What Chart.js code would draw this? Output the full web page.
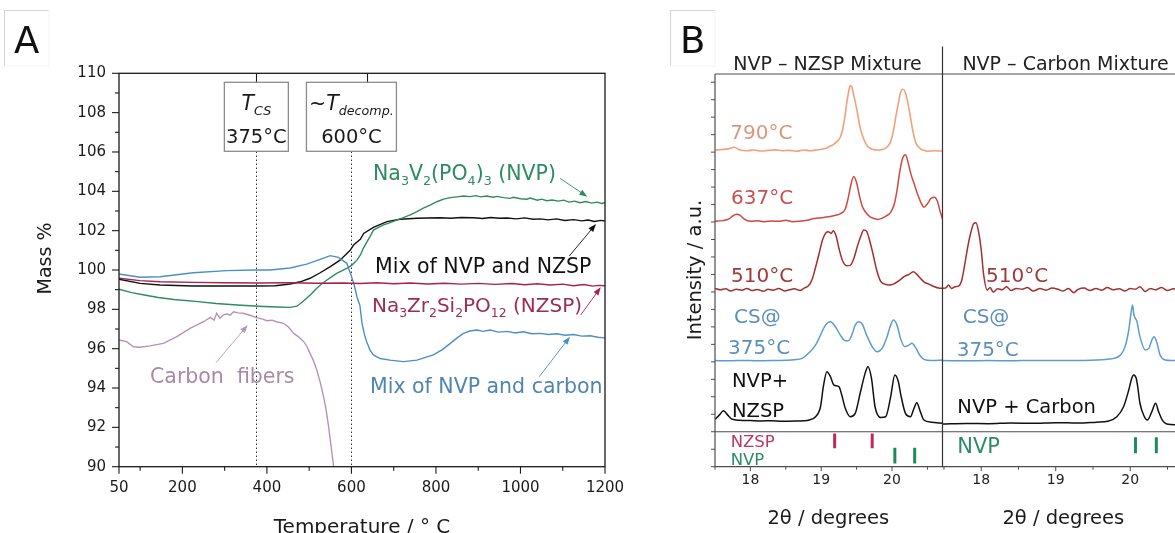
<!DOCTYPE html>
<html>
<head>
<meta charset="utf-8">
<title>TGA and XRD of NVP mixtures</title>
<script src="https://cdn.jsdelivr.net/npm/chart.js@4.4.1/dist/chart.umd.min.js"></script>
<style>
  html, body { margin: 0; padding: 0; background: #fff; overflow: hidden; }
  body { width: 1175px; height: 533px; position: relative; }
  canvas { position: absolute; top: 0; }
</style>
</head>
<body>
<canvas id="tga" width="650" height="533" style="left:0"></canvas>
<canvas id="xrdL" width="300" height="533" style="left:660px"></canvas>
<canvas id="xrdR" width="270" height="533" style="left:930px"></canvas>
<script>
const FONT = '"DejaVu Sans", sans-serif';

// ---------- Panel A: TGA (temperature in °C, mass in %) ----------
const tempNVP = [50, 80, 110, 143, 180, 237, 280, 330, 380, 424, 455, 471, 483, 494, 506, 518, 530, 542, 553, 565, 577, 589, 601, 613, 621, 628, 636, 644, 652, 664, 676, 690, 707, 723, 739, 755, 770, 786, 802, 818, 834, 850, 865, 880, 895, 905, 920, 935, 944, 960, 975, 983, 1000, 1015, 1023, 1040, 1050, 1062, 1075, 1090, 1102, 1115, 1128, 1141, 1155, 1168, 1181, 1192, 1200];
const massNVP = [99.02, 98.85, 98.73, 98.6, 98.5, 98.39, 98.3, 98.22, 98.16, 98.12, 98.1, 98.16, 98.36, 98.56, 98.8, 99.07, 99.3, 99.49, 99.65, 99.83, 99.95, 100.08, 100.25, 100.5, 100.75, 101.1, 101.4, 101.7, 102.03, 102.17, 102.29, 102.4, 102.54, 102.66, 102.8, 102.97, 103.14, 103.3, 103.47, 103.6, 103.68, 103.72, 103.76, 103.73, 103.78, 103.72, 103.76, 103.7, 103.74, 103.68, 103.64, 103.7, 103.62, 103.6, 103.66, 103.55, 103.6, 103.52, 103.56, 103.5, 103.55, 103.45, 103.5, 103.42, 103.48, 103.4, 103.45, 103.38, 103.42];

const tempMixNZSP = [50, 100, 147, 226, 305, 374, 420, 455, 479, 502, 526, 550, 573, 597, 605, 621, 629, 652, 684, 715, 755, 780, 810, 835, 860, 889, 910, 930, 950, 968, 990, 1010, 1030, 1047, 1065, 1085, 1105, 1126, 1145, 1160, 1175, 1190, 1200];
const massMixNZSP = [99.53, 99.32, 99.24, 99.19, 99.19, 99.19, 99.2, 99.29, 99.4, 99.58, 99.86, 100.17, 100.5, 101.0, 101.27, 101.56, 101.86, 102.17, 102.46, 102.58, 102.63, 102.64, 102.66, 102.63, 102.67, 102.66, 102.62, 102.67, 102.63, 102.64, 102.6, 102.65, 102.58, 102.6, 102.55, 102.6, 102.52, 102.56, 102.5, 102.54, 102.47, 102.52, 102.49];

const tempNZSP = [50, 100, 147, 226, 300, 380, 450, 520, 580, 620, 660, 700, 740, 780, 820, 860, 900, 940, 980, 1010, 1040, 1070, 1100, 1125, 1150, 1170, 1185, 1200];
const massNZSP = [99.58, 99.46, 99.4, 99.37, 99.35, 99.34, 99.35, 99.33, 99.34, 99.31, 99.35, 99.3, 99.34, 99.29, 99.33, 99.28, 99.32, 99.27, 99.31, 99.25, 99.3, 99.24, 99.28, 99.2, 99.26, 99.18, 99.22, 99.2];

const tempMixC = [50, 100, 147, 226, 305, 374, 407, 455, 494, 526, 550, 569, 589, 599, 607, 613, 620, 625, 631, 636, 644, 652, 668, 691, 723, 755, 794, 815, 834, 850, 865, 880, 897, 912, 928, 948, 968, 988, 1007, 1027, 1047, 1066, 1086, 1106, 1126, 1145, 1165, 1183, 1200];
const massMixC = [99.8, 99.63, 99.66, 99.86, 99.97, 100.0, 100.0, 100.1, 100.3, 100.54, 100.73, 100.64, 100.34, 99.75, 99.2, 98.64, 98.2, 97.3, 96.7, 96.35, 95.93, 95.68, 95.5, 95.42, 95.34, 95.42, 95.68, 95.95, 96.27, 96.55, 96.78, 96.9, 96.95, 96.88, 96.95, 96.84, 96.88, 96.8, 96.86, 96.76, 96.78, 96.72, 96.76, 96.68, 96.72, 96.64, 96.66, 96.58, 96.55];

const tempCF = [50, 68, 84, 100, 123, 155, 186, 218, 250, 266, 275, 281, 289, 297, 305, 313, 321, 332, 344, 360, 374, 390, 400, 412, 423, 439, 451, 463, 475, 487, 495, 502, 510, 518, 526, 534, 540, 546, 552, 556, 559];
const massCF = [96.44, 96.36, 96.1, 96.07, 96.14, 96.27, 96.6, 97.03, 97.37, 97.59, 97.45, 97.8, 97.55, 97.72, 97.76, 97.7, 97.88, 97.82, 97.8, 97.7, 97.59, 97.5, 97.42, 97.45, 97.37, 97.29, 97.1, 96.78, 96.6, 96.36, 96.1, 95.76, 95.4, 94.92, 94.3, 93.56, 92.9, 92.03, 91.0, 90.34, 89.8];

const tempLabels = [50, 200, 400, 600, 800, 1000, 1200];
const tempMinor = [100, 300, 500, 700, 900, 1100];
const massLabels = [90, 92, 94, 96, 98, 100, 102, 104, 106, 108, 110];
const massMinor = [91, 93, 95, 97, 99, 101, 103, 105, 107, 109];
const markerTemps = [375, 600];
const markerNames = ['375°C', '600°C'];

// ---------- Panel B: XRD (2θ in degrees, offset intensity) ----------
const thetaTicks = [18, 19, 20];
const thetaMinor = [17.5, 18.5, 19.5, 20.5];

const x790 = [17.5, 17.6, 17.7, 17.77, 17.85, 17.95, 18.05, 18.15, 18.25, 18.35, 18.45, 18.55, 18.65, 18.75, 18.85, 18.95, 19.03, 19.08, 19.13, 19.17, 19.22, 19.27, 19.3, 19.33, 19.36, 19.39, 19.41, 19.43, 19.46, 19.5, 19.55, 19.6, 19.65, 19.72, 19.8, 19.85, 19.9, 19.94, 19.98, 20.02, 20.05, 20.09, 20.12, 20.15, 20.18, 20.22, 20.26, 20.3, 20.34, 20.4, 20.45, 20.5, 20.6, 20.72];
const y790 = [18.12, 18.15, 18.2, 18.28, 18.12, 18.08, 18.12, 18.06, 18.1, 18.13, 18.08, 18.1, 18.05, 18.12, 18.08, 18.14, 18.18, 18.24, 18.35, 18.43, 18.6, 18.85, 19.25, 19.9, 20.8, 21.5, 21.8, 21.75, 21.25, 20.5, 19.4, 18.75, 18.35, 18.17, 18.12, 18.14, 18.2, 18.33, 18.6, 19.2, 19.95, 20.8, 21.4, 21.6, 21.5, 20.9, 20.0, 19.1, 18.5, 18.2, 18.1, 18.05, 18.08, 18.06];

const x637 = [17.5, 17.6, 17.7, 17.75, 17.8, 17.85, 17.92, 18.0, 18.1, 18.2, 18.3, 18.4, 18.5, 18.6, 18.7, 18.8, 18.9, 19.0, 19.1, 19.2, 19.28, 19.34, 19.38, 19.42, 19.46, 19.5, 19.54, 19.58, 19.62, 19.69, 19.75, 19.8, 19.86, 19.92, 19.98, 20.03, 20.07, 20.11, 20.15, 20.19, 20.23, 20.27, 20.32, 20.36, 20.41, 20.45, 20.5, 20.55, 20.6, 20.64, 20.68, 20.72];
const y637 = [14.05, 14.08, 14.18, 14.35, 14.45, 14.4, 14.15, 14.05, 14.08, 14.02, 14.06, 14.04, 14.1, 14.02, 14.05, 14.1, 14.2, 14.25, 14.3, 14.38, 14.5, 14.75, 15.35, 16.15, 16.6, 16.25, 15.5, 14.9, 14.6, 14.3, 14.2, 14.15, 14.22, 14.35, 14.55, 15.0, 15.8, 16.9, 17.65, 17.85, 17.35, 16.7, 16.1, 15.6, 15.1, 14.85, 15.05, 15.35, 15.42, 15.2, 14.6, 14.1];

const x510L = [17.5, 17.58, 17.65, 17.72, 17.8, 17.88, 17.95, 18.02, 18.1, 18.18, 18.25, 18.32, 18.4, 18.48, 18.55, 18.62, 18.7, 18.76, 18.82, 18.87, 18.92, 18.97, 19.02, 19.07, 19.1, 19.14, 19.17, 19.21, 19.25, 19.3, 19.36, 19.41, 19.46, 19.51, 19.56, 19.6, 19.64, 19.68, 19.73, 19.78, 19.84, 19.9, 19.96, 20.02, 20.1, 20.18, 20.24, 20.3, 20.34, 20.4, 20.46, 20.52, 20.6, 20.66, 20.72];
const y510L = [10.2, 10.12, 10.18, 10.05, 10.15, 10.1, 10.2, 10.08, 10.14, 10.04, 10.15, 10.1, 10.2, 10.06, 10.12, 10.18, 10.08, 10.22, 10.35, 10.7, 11.4, 12.2, 13.0, 13.4, 13.45, 13.35, 13.5, 13.2, 12.5, 11.8, 11.5, 11.52, 11.9, 12.6, 13.2, 13.55, 13.48, 13.0, 12.2, 11.3, 10.6, 10.45, 10.4, 10.45, 10.65, 10.9, 11.0, 11.15, 11.05, 10.78, 10.55, 10.45, 10.3, 10.22, 10.2];

const xCSL = [17.5, 17.7, 17.9, 18.1, 18.3, 18.5, 18.62, 18.73, 18.82, 18.92, 18.99, 19.06, 19.13, 19.2, 19.27, 19.34, 19.39, 19.44, 19.48, 19.53, 19.58, 19.65, 19.72, 19.79, 19.86, 19.93, 19.98, 20.02, 20.07, 20.12, 20.18, 20.24, 20.28, 20.34, 20.39, 20.45, 20.56, 20.72];
const yCSL = [6.07, 6.06, 6.08, 6.06, 6.07, 6.09, 6.12, 6.2, 6.49, 6.96, 7.53, 8.1, 8.3, 8.01, 7.53, 7.21, 7.22, 7.63, 8.1, 8.3, 8.15, 7.44, 6.87, 6.58, 6.77, 7.44, 8.1, 8.39, 8.1, 7.34, 6.87, 6.96, 7.06, 6.77, 6.39, 6.14, 6.07, 6.1];

const xMixL = [17.5, 17.56, 17.62, 17.68, 17.74, 17.85, 18.0, 18.16, 18.3, 18.45, 18.63, 18.75, 18.82, 18.92, 18.99, 19.03, 19.08, 19.13, 19.18, 19.25, 19.29, 19.34, 19.41, 19.48, 19.55, 19.62, 19.66, 19.71, 19.76, 19.84, 19.91, 19.98, 20.04, 20.09, 20.12, 20.19, 20.26, 20.31, 20.35, 20.4, 20.45, 20.56, 20.72];
const yMixL = [2.7, 2.95, 3.2, 2.95, 2.72, 2.66, 2.64, 2.62, 2.63, 2.6, 2.61, 2.63, 2.66, 2.86, 3.43, 4.58, 5.43, 5.15, 4.67, 4.58, 4.1, 3.34, 2.86, 3.05, 4.2, 5.34, 5.72, 5.05, 3.43, 2.82, 2.86, 3.98, 5.25, 4.86, 4.2, 3.05, 2.86, 3.34, 3.66, 3.15, 2.67, 2.55, 2.48];

const x510R = [17.48, 17.53, 17.56, 17.6, 17.65, 17.7, 17.74, 17.78, 17.82, 17.86, 17.9, 17.93, 17.96, 18.0, 18.03, 18.08, 18.12, 18.16, 18.22, 18.28, 18.34, 18.4, 18.47, 18.55, 18.62, 18.7, 18.79, 18.87, 18.95, 19.03, 19.1, 19.17, 19.24, 19.3, 19.38, 19.46, 19.54, 19.62, 19.69, 19.77, 19.85, 19.93, 20.0, 20.07, 20.13, 20.2, 20.27, 20.34, 20.42, 20.5, 20.58, 20.65, 20.72];
const y510R = [10.2, 10.25, 10.4, 10.2, 10.3, 10.35, 10.7, 11.6, 12.6, 13.4, 13.92, 13.96, 13.54, 12.4, 11.06, 10.11, 10.25, 9.99, 10.18, 10.12, 10.3, 10.08, 10.2, 10.15, 10.25, 10.05, 10.2, 10.1, 10.22, 10.15, 10.05, 10.2, 9.96, 10.15, 10.22, 10.08, 10.2, 10.1, 10.25, 10.12, 10.18, 10.05, 10.2, 10.15, 10.3, 10.02, 10.2, 10.12, 10.25, 10.08, 10.18, 10.1, 10.2];

const xCSR = [17.48, 17.8, 18.1, 18.4, 18.7, 19.0, 19.3, 19.55, 19.7, 19.78, 19.87, 19.93, 19.98, 20.01, 20.03, 20.05, 20.09, 20.13, 20.2, 20.25, 20.29, 20.32, 20.36, 20.4, 20.47, 20.55, 20.72];
const yCSR = [6.07, 6.06, 6.07, 6.06, 6.08, 6.07, 6.08, 6.1, 6.15, 6.2, 6.39, 6.87, 7.82, 8.77, 9.25, 8.68, 8.3, 7.44, 6.68, 6.77, 7.25, 7.44, 7.06, 6.39, 6.1, 6.07, 6.07];

const xMixR = [17.48, 17.8, 18.1, 18.4, 18.7, 19.0, 19.3, 19.55, 19.7, 19.82, 19.91, 19.98, 20.02, 20.045, 20.08, 20.1, 20.13, 20.19, 20.23, 20.29, 20.34, 20.38, 20.43, 20.49, 20.6, 20.72];
const yMixR = [2.44, 2.47, 2.46, 2.5, 2.48, 2.52, 2.5, 2.55, 2.6, 2.86, 3.43, 4.39, 5.06, 5.25, 5.06, 4.58, 3.63, 2.86, 2.67, 3.15, 3.63, 3.15, 2.67, 2.44, 2.4, 2.4];

// reference reflections
const nzspRefX = [19.19, 19.72];
const nvpRefXL = [20.04, 20.32];
const nvpRefXR = [20.07, 20.35];

// ---------- helpers ----------
function pts(xs, ys) { return xs.map((v, i) => ({ x: v, y: ys[i] })); }

function curve(xs, ys, color, width, smooth) {
  return {
    data: pts(xs, ys), borderColor: color, borderWidth: width, pointRadius: 0, fill: false,
    tension: 0, cubicInterpolationMode: smooth ? 'monotone' : 'default'
  };
}

// short vertical bars for reference peak positions (gaps split the bars)
function refBars(xs, lo, hi, color) {
  const data = [];
  xs.forEach((v, i) => {
    if (i) data.push({ x: v - 0.01, y: null });
    data.push({ x: v, y: lo }, { x: v, y: hi });
  });
  return { data, borderColor: color, borderWidth: 3, borderCapStyle: 'butt', pointRadius: 0, spanGaps: false, tension: 0 };
}

function seg(ctx, x1, y1, x2, y2) {
  ctx.beginPath(); ctx.moveTo(x1, y1); ctx.lineTo(x2, y2); ctx.stroke();
}

function text(ctx, s, x, y, size, color, align) {
  ctx.font = `${size}px ${FONT}`;
  ctx.fillStyle = color;
  ctx.textAlign = align || 'left';
  ctx.textBaseline = 'alphabetic';
  ctx.fillText(s, x, y);
}

// parts: [text, mode]  mode may contain 'it' (italic) and 'sub' (subscript)
function rich(ctx, parts, x, y, size, color, align) {
  const fontOf = m => `${m.includes('it') ? 'italic ' : ''}${m.includes('sub') ? size * 0.62 : size}px ${FONT}`;
  let w = 0;
  parts.forEach(([s, m]) => { ctx.font = fontOf(m); w += ctx.measureText(s).width; });
  let cx = align === 'center' ? x - w / 2 : x;
  ctx.fillStyle = color; ctx.textAlign = 'left'; ctx.textBaseline = 'alphabetic';
  parts.forEach(([s, m]) => {
    ctx.font = fontOf(m);
    ctx.fillText(s, cx, y + (m.includes('sub') ? size * 0.25 : 0));
    cx += ctx.measureText(s).width;
  });
}

function arrow(ctx, x1, y1, x2, y2, color) {
  const a = Math.atan2(y2 - y1, x2 - x1), L = 8, W = 3;
  ctx.strokeStyle = color; ctx.fillStyle = color; ctx.lineWidth = 0.9;
  seg(ctx, x1, y1, x2 - L * 0.7 * Math.cos(a), y2 - L * 0.7 * Math.sin(a));
  ctx.beginPath();
  ctx.moveTo(x2, y2);
  ctx.lineTo(x2 - L * Math.cos(a) + W * Math.sin(a), y2 - L * Math.sin(a) - W * Math.cos(a));
  ctx.lineTo(x2 - L * Math.cos(a) - W * Math.sin(a), y2 - L * Math.sin(a) + W * Math.cos(a));
  ctx.closePath(); ctx.fill();
}

function panelTag(ctx, letter, bx, by) {
  ctx.strokeStyle = '#d6d6d6'; ctx.lineWidth = 1;
  seg(ctx, bx, by + 0.5, bx + 45, by + 0.5);
  seg(ctx, bx + 0.5, by, bx + 0.5, by + 56);
  ctx.strokeStyle = '#f2f2f2';
  seg(ctx, bx + 45, by, bx + 45, by + 56);
  seg(ctx, bx, by + 56, bx + 45, by + 56);
  text(ctx, letter, bx + 10, by + 42.5, 37, '#111');
}

const noPad = s => { s.paddingLeft = 0; s.paddingRight = 0; s.paddingTop = 0; s.paddingBottom = 0; };

// ---------- Panel A chart ----------
const colNVP = '#2e8b62', colMixC = '#4d8fc2', colNZSP = '#a8224c', colCF = '#b892b4';

const tgaDecor = {
  id: 'tgaDecor',
  beforeDatasetsDraw(chart) {
    const { ctx, chartArea: a, scales: { x } } = chart;
    ctx.save();
    ctx.strokeStyle = '#333'; ctx.lineWidth = 1; ctx.setLineDash([1.5, 2.5]);
    markerTemps.forEach(t => {
      const px = Math.round(x.getPixelForValue(t)) + 0.5;
      seg(ctx, px, 151.5, px, a.bottom);
    });
    ctx.restore();
  },
  afterDraw(chart) {
    const { ctx, chartArea: a, scales: { x, y } } = chart;
    ctx.save();
    ctx.strokeStyle = '#1a1a1a'; ctx.lineWidth = 1.3;
    ctx.strokeRect(a.left, a.top, a.right - a.left, a.bottom - a.top);
    ctx.lineWidth = 1.1;
    tempLabels.forEach(t => seg(ctx, x.getPixelForValue(t), a.bottom, x.getPixelForValue(t), a.bottom + 7));
    tempMinor.forEach(t => seg(ctx, x.getPixelForValue(t), a.bottom, x.getPixelForValue(t), a.bottom + 4));
    massLabels.forEach(m => seg(ctx, a.left, y.getPixelForValue(m), a.left - 7, y.getPixelForValue(m)));
    massMinor.forEach(m => seg(ctx, a.left, y.getPixelForValue(m), a.left - 4, y.getPixelForValue(m)));
    [375, 637].forEach(t => seg(ctx, Math.round(x.getPixelForValue(t)) + 0.5, a.top, Math.round(x.getPixelForValue(t)) + 0.5, a.top + 9));

    // marker boxes
    const widths = [64, 90];
    ctx.strokeStyle = '#8c8c8c'; ctx.lineWidth = 1.3;
    markerTemps.forEach((t, i) => {
      const cx = x.getPixelForValue(t);
      ctx.fillStyle = '#fff';
      ctx.fillRect(cx - widths[i] / 2, 82.3, widths[i], 69);
      ctx.strokeRect(cx - widths[i] / 2, 82.3, widths[i], 69);
      text(ctx, markerNames[i], cx, 143, 19.5, '#1a1a1a', 'center');
    });
    rich(ctx, [['T', 'it'], ['CS', 'itsub']], x.getPixelForValue(375), 109.5, 20.5, '#1a1a1a', 'center');
    rich(ctx, [['~', ''], ['T', 'it'], ['decomp.', 'itsub']], x.getPixelForValue(600), 109.5, 20.5, '#1a1a1a', 'center');

    // curve labels and arrows
    rich(ctx, [['Na', ''], ['3', 'sub'], ['V', ''], ['2', 'sub'], ['(PO', ''], ['4', 'sub'], [')', ''], ['3', 'sub'], [' (NVP)', '']], 373, 180, 20.5, colNVP);
    arrow(ctx, 560, 178.3, 587.3, 196.7, colNVP);
    text(ctx, 'Mix of NVP and NZSP', 375, 272.7, 20.5, '#111');
    arrow(ctx, 569.3, 256, 596, 224, '#111');
    rich(ctx, [['Na', ''], ['3', 'sub'], ['Zr', ''], ['2', 'sub'], ['Si', ''], ['2', 'sub'], ['PO', ''], ['12', 'sub'], [' (NZSP)', '']], 372, 312.3, 20, '#9e2b50');
    arrow(ctx, 580.7, 315, 600.7, 287.3, colNZSP);
    text(ctx, 'Mix of NVP and carbon', 370, 393.3, 20.5, '#4f86b0');
    arrow(ctx, 539.3, 376.7, 570, 336.7, colMixC);
    text(ctx, 'Carbon  fibers', 150, 382.7, 20.5, '#a88aa5');
    arrow(ctx, 216, 362.7, 247.7, 325, '#b49ab2');

    // axis titles
    text(ctx, 'Temperature / ° C', 362, 533, 20, '#1a1a1a', 'center');
    ctx.save();
    ctx.translate(46, 258.5); ctx.rotate(-Math.PI / 2);
    ctx.textBaseline = 'middle';
    ctx.font = `19px ${FONT}`; ctx.fillStyle = '#1a1a1a'; ctx.textAlign = 'center';
    ctx.fillText('Mass %', 0, 0);
    ctx.restore();

    panelTag(ctx, 'A', 4, 10);
    ctx.restore();
  }
};

new Chart(document.getElementById('tga'), {
  type: 'line',
  data: {
    datasets: [
      curve(tempCF, massCF, colCF, 1.4, false),
      curve(tempNZSP, massNZSP, colNZSP, 1.4, false),
      curve(tempMixC, massMixC, colMixC, 1.4, false),
      curve(tempNVP, massNVP, colNVP, 1.4, false),
      curve(tempMixNZSP, massMixNZSP, '#111', 1.4, false)
    ]
  },
  options: {
    responsive: false, animation: false,
    layout: { autoPadding: false, padding: { left: 0, top: 73.3, right: 45, bottom: 0 } },
    plugins: { legend: { display: false }, tooltip: { enabled: false } },
    scales: {
      x: {
        type: 'linear', min: 50, max: 1200,
        afterBuildTicks: s => { s.ticks = tempLabels.map(v => ({ value: v })); },
        ticks: { font: { family: FONT, size: 15 }, color: '#1a1a1a', padding: 12, maxRotation: 0, autoSkip: false, callback: v => String(v) },
        grid: { display: false, drawTicks: false }, border: { display: false },
        afterFit: s => { s.height = 66.3; noPad(s); }
      },
      y: {
        min: 90, max: 110,
        afterBuildTicks: s => { s.ticks = massLabels.map(v => ({ value: v })); },
        ticks: { font: { family: FONT, size: 15 }, color: '#1a1a1a', padding: 13, autoSkip: false, callback: v => String(v) },
        grid: { display: false, drawTicks: false }, border: { display: false },
        afterFit: s => { s.width = 119; noPad(s); }
      }
    }
  },
  plugins: [tgaDecor]
});

// ---------- Panel B charts ----------
const colCS = '#5c9ccf', colCSText = '#5b8fba', col510 = '#a32f2f', col510Text = '#a03a3a';
const colRefNZSP = '#c0285a', colRefNVP = '#1f8a5a';

function xrdFrame(ctx, a, x, y, withYTicks) {
  ctx.strokeStyle = '#4d4d4d'; ctx.lineWidth = 1.2;
  seg(ctx, a.left, a.top, a.right, a.top);
  seg(ctx, a.left, a.bottom, a.right, a.bottom);
  const ys = y.getPixelForValue(2);
  seg(ctx, a.left, ys, a.right, ys);
  ctx.lineWidth = 1;
  thetaTicks.forEach(t => seg(ctx, x.getPixelForValue(t), a.bottom, x.getPixelForValue(t), a.bottom + 4.5));
  thetaMinor.forEach(t => seg(ctx, x.getPixelForValue(t), a.bottom, x.getPixelForValue(t), a.bottom + 3));
  if (withYTicks) {
    for (let u = 0; u <= 22; u++) seg(ctx, a.left, y.getPixelForValue(u), a.left - 4, y.getPixelForValue(u));
  }
}

const xrdLeftDecor = {
  id: 'xrdLeftDecor',
  afterDraw(chart) {
    const { ctx, chartArea: a, scales: { x, y } } = chart;
    ctx.save();
    xrdFrame(ctx, a, x, y, true);
    ctx.strokeStyle = '#4d4d4d'; ctx.lineWidth = 1.2;
    seg(ctx, a.left, a.top, a.left, a.bottom);
    ctx.translate(-660, 0); // page coordinates from here
    panelTag(ctx, 'B', 670, 10);
    text(ctx, 'NVP – NZSP Mixture', 827.5, 69.5, 19, '#222', 'center');
    text(ctx, '790°C', 730.3, 138.7, 20, '#d9987e');
    text(ctx, '637°C', 731, 204, 20, '#c55250');
    text(ctx, '510°C', 731, 281.6, 20, col510Text);
    text(ctx, 'CS@', 734, 323, 20, colCSText);
    text(ctx, '375°C', 728, 353.7, 20, colCSText);
    text(ctx, 'NVP+', 732, 386.7, 19.5, '#111');
    text(ctx, 'NZSP', 732, 416.7, 19.5, '#111');
    text(ctx, 'NZSP', 730.7, 446.7, 16.5, '#b83a62');
    text(ctx, 'NVP', 730.7, 465, 16.5, '#2e8b66');
    text(ctx, '2θ / degrees', 828.3, 524, 19.5, '#1a1a1a', 'center');
    ctx.save();
    ctx.translate(696, 270); ctx.rotate(-Math.PI / 2);
    ctx.textBaseline = 'middle'; ctx.textAlign = 'center';
    ctx.font = `19.5px ${FONT}`; ctx.fillStyle = '#1a1a1a';
    ctx.fillText('Intensity / a.u.', 0, 0);
    ctx.restore();
    ctx.restore();
  }
};

const xrdRightDecor = {
  id: 'xrdRightDecor',
  afterDraw(chart) {
    const { ctx, chartArea: a, scales: { x, y } } = chart;
    ctx.save();
    xrdFrame(ctx, a, x, y, false);
    ctx.strokeStyle = '#333'; ctx.lineWidth = 1.2;
    seg(ctx, a.left, 46.5, a.left, a.bottom);
    ctx.translate(-930, 0);
    text(ctx, 'NVP – Carbon Mixture', 1065.5, 69.5, 19, '#222', 'center');
    text(ctx, '510°C', 986, 281.6, 20, col510Text);
    text(ctx, 'CS@', 962.7, 323.3, 20, colCSText);
    text(ctx, '375°C', 956.7, 355.7, 20, colCSText);
    text(ctx, 'NVP + Carbon', 957.3, 412.7, 19.5, '#111');
    text(ctx, 'NVP', 957.3, 453.3, 21, '#2e8b66');
    text(ctx, '2θ / degrees', 1063.3, 524, 19.5, '#1a1a1a', 'center');
    ctx.restore();
  }
};

function xrdOptions(xmin, yWidth, padLeft, padRight) {
  return {
    responsive: false, animation: false,
    layout: { autoPadding: false, padding: { left: padLeft, top: 74, right: padRight, bottom: 0 } },
    plugins: { legend: { display: false }, tooltip: { enabled: false } },
    scales: {
      x: {
        type: 'linear', min: xmin, max: 20.72,
        afterBuildTicks: s => { s.ticks = thetaTicks.map(v => ({ value: v })); },
        ticks: { font: { family: FONT, size: 14 }, color: '#222', padding: 5, maxRotation: 0, autoSkip: false, callback: v => String(v) },
        grid: { display: false, drawTicks: false }, border: { display: false },
        afterFit: s => { s.height = 66.3; noPad(s); }
      },
      y: {
        min: 0, max: 22.47,
        ticks: { display: false },
        grid: { display: false, drawTicks: false }, border: { display: false },
        afterFit: s => { s.width = yWidth; noPad(s); }
      }
    }
  };
}

new Chart(document.getElementById('xrdL'), {
  type: 'line',
  data: {
    datasets: [
      curve(x790, y790, '#f2a07c', 1.6, true),
      curve(x637, y637, '#d2473f', 1.5, true),
      curve(x510L, y510L, col510, 1.5, true),
      curve(xCSL, yCSL, colCS, 1.5, true),
      curve(xMixL, yMixL, '#111', 1.5, true),
      refBars(nzspRefX, 1.05, 1.9, colRefNZSP),
      refBars(nvpRefXL, 0.19, 1.09, colRefNVP)
    ]
  },
  options: xrdOptions(17.5, 55, 0, 17),
  plugins: [xrdLeftDecor]
});

new Chart(document.getElementById('xrdR'), {
  type: 'line',
  data: {
    datasets: [
      curve(x510R, y510R, col510, 1.5, true),
      curve(xCSR, yCSR, colCS, 1.5, true),
      curve(xMixR, yMixR, '#111', 1.5, true),
      refBars(nvpRefXR, 0.77, 1.68, colRefNVP)
    ]
  },
  options: xrdOptions(17.48, 12.5, 0, 16.1),
  plugins: [xrdRightDecor]
});
</script>
</body>
</html>
